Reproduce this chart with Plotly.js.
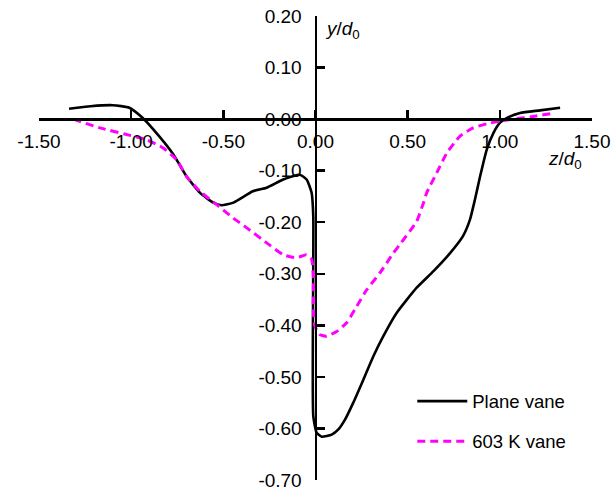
<!DOCTYPE html>
<html>
<head>
<meta charset="utf-8">
<script src="https://cdn.plot.ly/plotly-3.0.1.min.js"></script>
<style>html,body{margin:0;padding:0;background:#fff;}#chart{width:615px;height:491px;}</style>
</head>
<body>
<div id="chart"></div>
<script>
// Plane vane
const planeZ = [-1.337, -1.22, -1.10, -1.01, -0.94, -0.88, -0.77, -0.70, -0.626, -0.555, -0.51, -0.445, -0.34, -0.265, -0.175, -0.085, -0.048, -0.021, -0.012, -0.012, 0.006, 0.034, 0.088, 0.124, 0.16, 0.205, 0.26, 0.314, 0.368, 0.44, 0.549, 0.64, 0.73, 0.80, 0.838, 0.865, 0.893, 0.929, 0.965, 1.001, 1.037, 1.11, 1.218, 1.327];
const planeY = [0.020, 0.025, 0.027, 0.022, 0.003, -0.020, -0.069, -0.111, -0.143, -0.162, -0.167, -0.162, -0.140, -0.133, -0.117, -0.108, -0.117, -0.143, -0.189, -0.576, -0.608, -0.616, -0.612, -0.602, -0.583, -0.550, -0.505, -0.460, -0.421, -0.376, -0.327, -0.295, -0.260, -0.227, -0.195, -0.156, -0.111, -0.059, -0.027, -0.007, 0.002, 0.012, 0.017, 0.022];
// 603 K vane
const kZ = [-1.314, -1.17, -0.99, -0.916, -0.826, -0.753, -0.70, -0.627, -0.536, -0.446, -0.373, -0.265, -0.175, -0.102, -0.048, -0.021, -0.012, -0.012, -0.003, 0.024, 0.06, 0.115, 0.169, 0.224, 0.278, 0.35, 0.422, 0.458, 0.549, 0.585, 0.603, 0.658, 0.712, 0.784, 0.856, 0.929, 1.001, 1.073, 1.18, 1.30];
const kY = [0.000, -0.017, -0.033, -0.040, -0.056, -0.079, -0.111, -0.140, -0.166, -0.192, -0.211, -0.240, -0.263, -0.269, -0.263, -0.272, -0.305, -0.370, -0.402, -0.418, -0.421, -0.412, -0.395, -0.363, -0.331, -0.298, -0.260, -0.243, -0.198, -0.163, -0.143, -0.104, -0.066, -0.033, -0.017, -0.009, -0.004, 0.000, 0.005, 0.012];

const xTickVals = [-1.5, -1.0, -0.5, 0, 0.5, 1.0, 1.5];
const xTickText = ["-1.50", "-1.00", "-0.50", "0.00", "0.50", "1.00", "1.50"];
const yTickVals = [0.2, 0.1, 0, -0.1, -0.2, -0.3, -0.4, -0.5, -0.6, -0.7];
const yTickText = ["0.20", "0.10", "0.00", "-0.10", "-0.20", "-0.30", "-0.40", "-0.50", "-0.60", "-0.70"];
const seriesNames = ["Plane vane", "603 K vane"];

const FONT = "Liberation Sans, Arial, sans-serif";
const FS = 19;
const LFS = 18.5;

const traces = [
  {x: planeZ, y: planeY, name: seriesNames[0], mode: "lines", legendgroup: "a",
   line: {color: "#000000", width: 2.6, shape: "spline", smoothing: 0.5}},
  {x: kZ, y: kY, name: seriesNames[1], mode: "lines", legendgroup: "b",
   line: {color: "#FF00FF", width: 3, dash: "8px,5px", shape: "spline", smoothing: 0.5}}
];

const layout = {
  width: 615, height: 491,
  margin: {l: 39, r: 23, t: 16, b: 11},
  paper_bgcolor: "#fff", plot_bgcolor: "#fff",
  font: {family: FONT, size: FS, color: "#000"},
  showlegend: true,
  xaxis: {
    range: [-1.5, 1.5], anchor: "free", position: 0.7/0.9, side: "bottom",
    tickvals: xTickVals, ticktext: xTickText,
    ticks: "inside", ticklen: 8, tickwidth: 2.5, tickcolor: "#000",
    showline: true, linecolor: "#000", linewidth: 2.5,
    showgrid: false, zeroline: false, ticklabelstandoff: 5,
    tickfont: {family: FONT, size: FS, color: "#000"}
  },
  yaxis: {
    range: [-0.7, 0.2], anchor: "free", position: 0.5, side: "left",
    tickvals: yTickVals, ticktext: yTickText,
    ticks: "inside", ticklen: 8, tickwidth: 2.5, tickcolor: "#000",
    showline: true, linecolor: "#000", linewidth: 2.5,
    showgrid: false, zeroline: false, ticklabelstandoff: 9,
    tickfont: {family: FONT, size: FS, color: "#000"}
  },
  legend: {
    x: 0.675, y: 0.21, xanchor: "left", yanchor: "top",
    bgcolor: "rgba(0,0,0,0)", traceorder: "grouped", tracegroupgap: 13,
    itemwidth: 50, font: {family: FONT, size: LFS, color: "#000"}
  },
  annotations: [
    {xref: "x", yref: "paper", x: 0.04, y: 0.97, xanchor: "left", yanchor: "middle", showarrow: false,
     text: "<i>y</i>/<i>d</i><sub>0</sub>", font: {family: FONT, size: FS, color: "#000"}},
    {xref: "x", yref: "y", x: 1.25, y: -0.08, xanchor: "left", yanchor: "middle", showarrow: false,
     text: "<i>z</i>/<i>d</i><sub>0</sub>", font: {family: FONT, size: FS, color: "#000"}}
  ]
};

Plotly.newPlot("chart", traces, layout, {displayModeBar: false, staticPlot: true});
</script>
</body>
</html>
